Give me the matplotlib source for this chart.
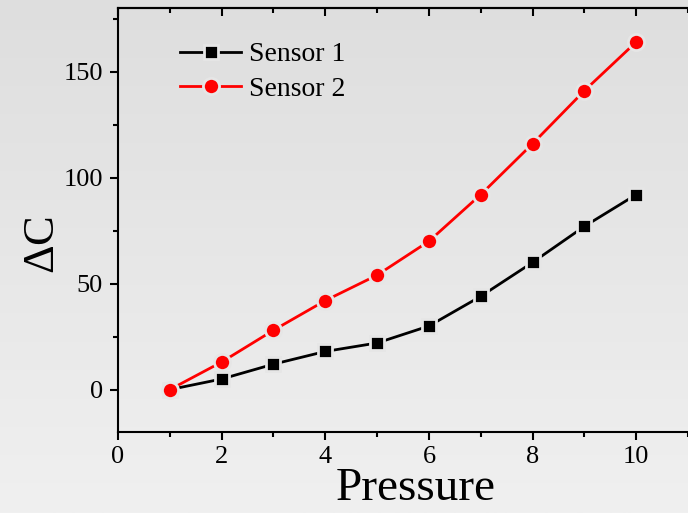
import numpy as np
import matplotlib
matplotlib.use('Agg')
import matplotlib.pyplot as plt
from matplotlib.colors import LinearSegmentedColormap
from matplotlib.ticker import MultipleLocator

matplotlib.rcParams.update({'font.family': 'Liberation Serif', 'font.size': 16,
                            'mathtext.fontset': 'custom', 'mathtext.rm': 'Liberation Serif'})

pressure = [1, 2, 3, 4, 5, 6, 7, 8, 9, 10]
sensor1 = [0, 5, 12, 18, 22, 30, 44, 60, 77, 92]
sensor2 = [0, 13, 28, 42, 54, 70, 92, 116, 141, 164]
labels = ["Sensor 1", "Sensor 2"]

fig = plt.figure(figsize=(6.88, 5.13), dpi=100)

# gray gradient background, darker at the top
bg = fig.add_axes([0, 0, 1, 1], zorder=-10)
cmap = LinearSegmentedColormap.from_list('bg', ['#dedede', '#f0f0f0'])
grad = np.linspace(0, 1, 256).reshape(-1, 1)
bg.imshow(grad, aspect='auto', cmap=cmap, extent=[0, 1, 0, 1], origin='upper')
bg.axis('off')

ax = fig.add_axes([118/688, 81/513, 596/688, 424/513])
ax.set_facecolor('none')
bgc = '#e6e6e6'
ax.plot(pressure, sensor1, '-s', color='black', lw=2, ms=10.6, mec=bgc, mew=2,
        mfc='black', label=labels[0])
ax.plot(pressure, sensor2, '-o', color='red', lw=2, ms=11.6, mec=bgc, mew=2,
        mfc='red', label=labels[1])

ax.set_xlim(0, 11.5)
ax.set_ylim(-20, 180)
ax.xaxis.set_major_locator(MultipleLocator(2))
ax.xaxis.set_minor_locator(MultipleLocator(1))
ax.yaxis.set_major_locator(MultipleLocator(50))
ax.yaxis.set_minor_locator(MultipleLocator(25))
ax.set_yticks([0, 50, 100, 150])

ax.spines['right'].set_visible(False)
for s in ['left', 'bottom', 'top']:
    ax.spines[s].set_linewidth(1.5)
ax.tick_params(which='both', direction='out', width=1.5, labelsize=19, top=False)
ax.tick_params(which='major', length=6)
ax.tick_params(axis='y', which='major', pad=5)
ax.tick_params(axis='x', which='major', pad=4)
ax.tick_params(which='minor', length=3.5)

# inward ticks on the top spine
top = ax.secondary_xaxis('top')
top.xaxis.set_major_locator(MultipleLocator(2))
top.xaxis.set_minor_locator(MultipleLocator(1))
top.tick_params(which='both', direction='in', width=1.5, labeltop=False)
top.tick_params(which='major', length=6)
top.tick_params(which='minor', length=3.5)
top.spines['top'].set_linewidth(1.5)

ax.set_xlabel('Pressure', fontsize=34, labelpad=0)
ax.set_ylabel(r'$\Delta$C', fontsize=32)
ax.yaxis.set_label_coords(-0.093, 0.44)

ax.legend(loc='upper left', bbox_to_anchor=(0.104, 0.92), frameon=False,
          fontsize=20, handlelength=2.2, handletextpad=0.3, labelspacing=0.33,
          borderaxespad=0, borderpad=0)

fig.savefig('out.png', dpi=100)
